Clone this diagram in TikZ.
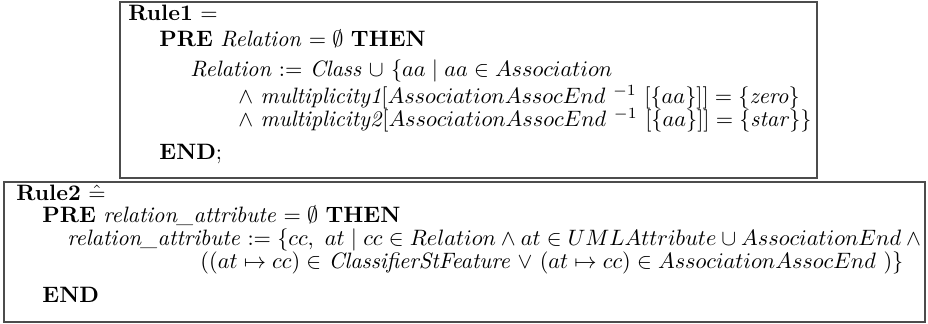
\documentclass[tikz,border=0pt]{standalone}
\usepackage{amsmath}
\usepackage{amssymb}
\usetikzlibrary{positioning}

\begin{document}
\begin{tikzpicture}[x=0.449pt, y=-0.449pt]
\tikzstyle{line}=[anchor=base west, inner sep=0pt]
\tikzstyle{bigline}=[line, font=\fontsize{10}{12}\selectfont]
\tikzstyle{rulebox}=[draw=black!70, line width=0.5pt]
\useasboundingbox (0,0) rectangle (928,324);
% first rule
\draw[rulebox] (120,2) rectangle (817,178);
\node[bigline] (r1head) at (128,21)  {\textbf{Rule1} $=$};
\node[bigline] (r1pre)  at (159,47)  {\textbf{PRE} \textit{Relation} $= \emptyset$ \textbf{THEN}};
\node[bigline] (r1def)  at (190,77)  {\textit{Relation} $:=$ \textit{Class} $\cup\ \{aa \mid aa \in Association$};
\node[bigline] (r1one)  at (238,104) {$\wedge$ \textit{multiplicity1}$[AssociationAssocEnd~^{-1}~[\{aa\}]] = \{$\textit{zero}$\}$};
\node[bigline] (r1two)  at (238,127) {$\wedge$ \textit{multiplicity2}$[AssociationAssocEnd~^{-1}~[\{aa\}]] = \{$\textit{star}$\}\}$};
\node[bigline] (r1end)  at (159,160) {\textbf{END};};
% second rule
\draw[rulebox] (4,182) rectangle (925,322);
\node[line] (r2head) at (16,201)  {\textbf{Rule2} $\hat{=}$};
\node[line] (r2pre)  at (42,223)  {\textbf{PRE} \textit{relation\_attribute} $= \emptyset$ \textbf{THEN}};
\node[line] (r2def)  at (67,246)  {\textit{relation\_attribute} $:= \{cc,\ at \mid cc \in Relation \wedge at \in UMLAttribute \cup AssociationEnd \wedge{}$};
\node[line] (r2cond) at (200,269) {$((at \mapsto cc) \in$ \textit{ClassifierStFeature} $\vee\ (at \mapsto cc) \in AssociationAssocEnd~)\}$};
\node[line] (r2end)  at (42,303)  {\textbf{END}};
\end{tikzpicture}
\end{document}
